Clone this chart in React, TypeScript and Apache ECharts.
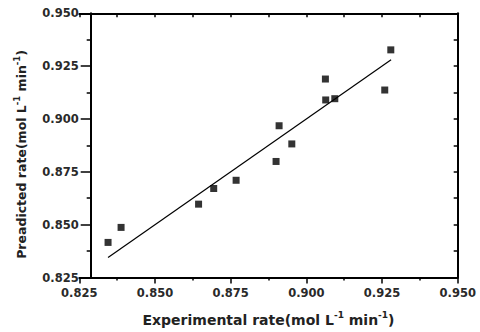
import React, { useEffect, useRef } from "react";
import * as echarts from "echarts";

const experimental = [0.8345, 0.8388, 0.8644, 0.8694, 0.8768, 0.8900, 0.8910, 0.8952, 0.9063, 0.9064, 0.9094, 0.9259, 0.9279];
const predicted = [0.8416, 0.8487, 0.8597, 0.8671, 0.8710, 0.8799, 0.8968, 0.8882, 0.9189, 0.9090, 0.9096, 0.9137, 0.9327];
const fitLine = [
  [0.8345, 0.8345],
  [0.928, 0.928],
];
const axisMin = 0.825;
const axisMax = 0.95;
const axisStep = 0.025;

const xTitle = "Experimental rate(mol L{sup|-1} min{sup|-1})";
const yTitle = "Preadicted rate(mol L{sup|-1} min{sup|-1})";

export default function App() {
  const ref = useRef<HTMLDivElement>(null);
  useEffect(() => {
    if (!ref.current) return;
    const chart = echarts.init(ref.current, null, { renderer: "svg" });
    const font = "DejaVu Sans";
    const lineStyle = { color: "#000", width: 2 };
    const labelStyle = {
      fontFamily: font,
      fontWeight: "bold" as const,
      fontSize: 11.5,
      color: "#2a2a2a",
      formatter: (v: number) => v.toFixed(3),
    };
    const base = {
      type: "value" as const,
      min: axisMin,
      max: axisMax,
      interval: axisStep,
      splitLine: { show: false },
      axisLine: { show: true, lineStyle },
    };
    chart.setOption({
      animation: false,
      backgroundColor: "#fff",
      grid: { left: 79.3, right: 22.3, top: 13.3, bottom: 53.7, containLabel: false },
      xAxis: [
        {
          ...base,
          position: "bottom",
          axisTick: { show: true, inside: false, length: 6, lineStyle: { color: "#000", width: 1.5 } },
          minorTick: { show: true, splitNumber: 2, length: 3, lineStyle: { color: "#000", width: 1.5 } },
          axisLabel: { ...labelStyle, margin: 9 },
          name: xTitle,
          nameLocation: "middle",
          nameGap: 33,
          nameTextStyle: {
            fontFamily: font,
            fontWeight: "bold",
            fontSize: 14,
            color: "#222",
            rich: {
              sup: { fontFamily: font, fontWeight: "bold", fontSize: 9, color: "#222", verticalAlign: "top", padding: [0, 0, 10, 0] },
            },
          },
        },
        {
          ...base,
          position: "top",
          axisTick: { show: true, inside: true, length: 4, lineStyle: { color: "#000", width: 1.5 } },
          minorTick: { show: true, splitNumber: 2, length: 4, lineStyle: { color: "#000", width: 1.5 } },
          axisLabel: { show: false },
        },
      ],
      yAxis: [
        {
          ...base,
          position: "left",
          offset: -11.4,
          axisTick: { show: true, inside: false, length: 10, lineStyle: { color: "#000", width: 1.5 } },
          minorTick: { show: true, splitNumber: 2, length: 4, lineStyle: { color: "#000", width: 1.5 } },
          axisLabel: { ...labelStyle, margin: 12 },
          name: yTitle,
          nameLocation: "middle",
          nameGap: 60,
          nameTextStyle: {
            fontFamily: font,
            fontWeight: "bold",
            fontSize: 12.5,
            color: "#222",
            padding: [0, 18, 0, 0],
            rich: {
              sup: { fontFamily: font, fontWeight: "bold", fontSize: 8.5, color: "#222", verticalAlign: "top", padding: [0, 0, 9, 0] },
            },
          },
        },
        {
          ...base,
          position: "right",
          axisTick: { show: true, inside: true, length: 4, lineStyle: { color: "#000", width: 1.5 } },
          minorTick: { show: true, splitNumber: 2, length: 4, lineStyle: { color: "#000", width: 1.5 } },
          axisLabel: { show: false },
        },
      ],
      series: [
        {
          type: "scatter",
          xAxisIndex: 0,
          yAxisIndex: 0,
          symbol: "rect",
          symbolSize: 7,
          itemStyle: { color: "#000" },
          data: experimental.map((x, i) => [x, predicted[i]]),
        },
        {
          type: "line",
          xAxisIndex: 0,
          yAxisIndex: 0,
          showSymbol: false,
          symbol: "none",
          lineStyle: { color: "#000", width: 1.2 },
          data: fitLine,
        },
      ],
    });
    return () => chart.dispose();
  }, []);
  return <div ref={ref} style={{ width: 480, height: 332, position: "absolute", left: 0, top: 0 }} />;
}
